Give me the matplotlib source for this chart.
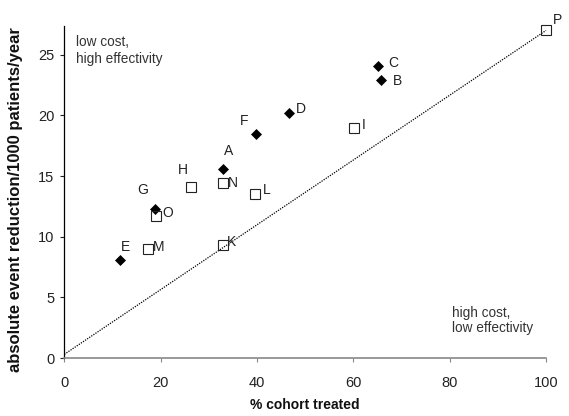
import matplotlib
matplotlib.use("Agg")
import matplotlib.pyplot as plt

plt.rcParams['font.family'] = ['Liberation Sans', 'DejaVu Sans']

# Data
diamond_labels = ["A", "B", "C", "D", "E", "F", "G"]
diamond_x = [32.9, 65.8, 65.2, 46.7, 11.5, 39.8, 18.8]
diamond_y = [15.6, 22.9, 24.1, 20.2, 8.1, 18.5, 12.25]

square_labels = ["H", "I", "K", "L", "M", "N", "O", "P"]
square_x = [26.2, 60.2, 32.9, 39.5, 17.4, 32.9, 19.0, 100.0]
square_y = [14.1, 19.0, 9.3, 13.5, 9.0, 14.45, 11.7, 27.0]

diag_x = [0, 100]
diag_y = [0.3, 27.0]

x_ticks = [0, 20, 40, 60, 80, 100]
y_ticks = [0, 5, 10, 15, 20, 25]

# label offsets in pixels (dx right, dy up)
label_offsets = {
    "A": (6, 18), "B": (16, -1), "C": (15, 3), "D": (12, 4), "E": (6, 13),
    "F": (-12, 13), "G": (-12, 19), "H": (-8, 17), "I": (9, 3), "K": (9, 3),
    "L": (12, 4), "M": (11, 2), "N": (10, 0), "O": (12, 3), "P": (11, 10),
}

fig = plt.figure(figsize=(5.69, 4.16), dpi=100)
ax = fig.add_axes([64.3 / 569, (416 - 358) / 416, (546 - 64.3) / 569, (358 - 25.6) / 416])

ax.plot(diag_x, diag_y, color='black', lw=0.9, linestyle=(0, (1, 1)), zorder=2, clip_on=False)
ax.plot(diamond_x, diamond_y, linestyle='none', marker='D', ms=5, color='black',
        mec='black', mew=0.5, zorder=3, clip_on=False)
ax.plot(square_x, square_y, linestyle='none', marker='s', ms=7, mfc='none',
        mec='#222222', mew=0.8, zorder=4, clip_on=False)

for lab, x, y in list(zip(diamond_labels, diamond_x, diamond_y)) + list(zip(square_labels, square_x, square_y)):
    dx, dy = label_offsets[lab]
    ax.annotate(lab, (x, y), xytext=(dx * 0.72, dy * 0.72), textcoords='offset points',
                ha='center', va='center', fontsize=10, color='#222222', annotation_clip=False)

ax.set_xlim(0, 100)
ax.set_ylim(0, 27.4)
ax.set_xticks(x_ticks)
ax.set_yticks(y_ticks)
ax.tick_params(axis='both', labelsize=10.5, length=3, width=0.8, colors='#222222')
ax.tick_params(axis='x', pad=10, color='#888888')
ax.tick_params(axis='y', pad=4)
ax.spines['top'].set_visible(False)
ax.spines['right'].set_visible(False)
ax.spines['left'].set_color('black')
ax.spines['left'].set_linewidth(0.9)
ax.spines['bottom'].set_color('#888888')
ax.spines['bottom'].set_linewidth(1.2)

fig.text((64.3 + 546) / 2 / 569, 1 - 405 / 416, '% cohort treated', fontsize=10,
         fontweight='bold', ha='center', va='center', color='#111111')
fig.text(16 / 569, 1 - 200 / 416, 'absolute event reduction/1000 patients/year', fontsize=12,
         fontweight='bold', ha='center', va='center', rotation=90, color='#111111')

ax.text(2.4, 26.6, 'low cost,\nhigh effectivity', fontsize=9.8, ha='left', va='top',
        color='#333333', linespacing=1.2)
ax.text(80.5, 4.3, 'high cost,\nlow effectivity', fontsize=9.8, ha='left', va='top',
        color='#333333', linespacing=1.1)

fig.savefig('out.png', dpi=100)
